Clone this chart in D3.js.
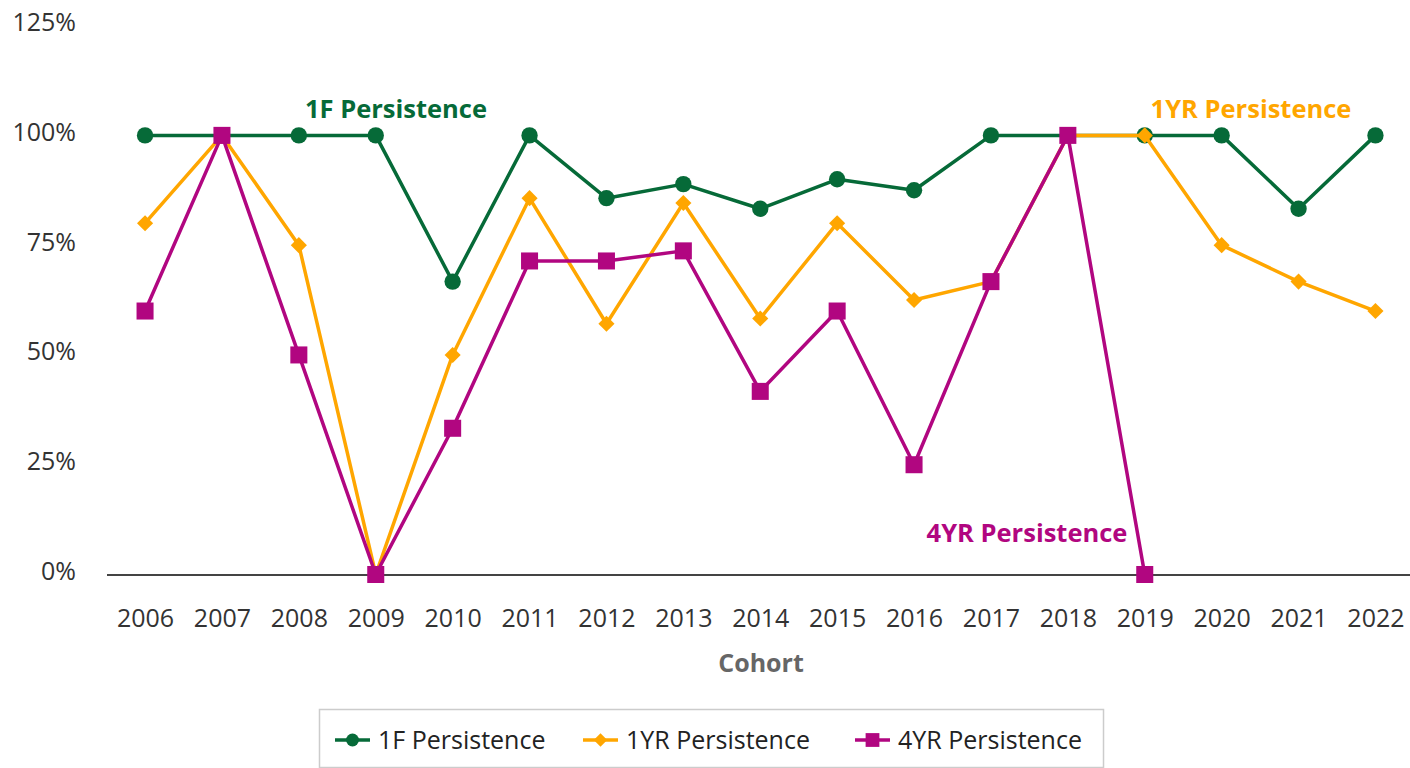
<!DOCTYPE html>
<html>
<head>
<meta charset="utf-8">
<script src="https://cdn.jsdelivr.net/npm/d3@7"></script>
<style>
  body { margin: 0; background: #fff; }
  svg { display: block; font-family: "Open Sans", sans-serif; }
</style>
</head>
<body>
<div id="chart"></div>
<script>
// Cohort years
var years = ['2006', '2007', '2008', '2009', '2010', '2011', '2012', '2013', '2014',
             '2015', '2016', '2017', '2018', '2019', '2020', '2021', '2022'];
// Persistence rates (%)
var persist1F  = [100, 100, 100, 100, 66.7, 100, 85.7, 88.9, 83.3, 90, 87.5, 100, 100, 100, 100, 83.3, 100];
var persist1YR = [80, 100, 75, 0, 50, 85.7, 57.1, 84.6, 58.3, 80, 62.5, 66.7, 100, 100, 75, 66.7, 60];
var persist4YR = [60, 100, 50, 0, 33.3, 71.4, 71.4, 73.7, 41.7, 60, 25, 66.7, 100, 0, null, null, null];
var yTicks = [0, 25, 50, 75, 100, 125];

var series = [
    { name: '1F Persistence',  values: persist1F,  color: '#066a38', shape: 'circle' },
    { name: '1YR Persistence', values: persist1YR, color: '#ffa600', shape: 'diamond' },
    { name: '4YR Persistence', values: persist4YR, color: '#b10680', shape: 'square' }
];

var width = 1410, height = 768;

var svg = d3.select('#chart')
    .append('svg')
    .attr('width', width)
    .attr('height', height);

var x = d3.scalePoint()
    .domain(years)
    .range([106.6, 1413.9])
    .padding(0.5);

var y = d3.scaleLinear()
    .domain([0, 125])
    .range([574.5, 25.6]);

// y axis labels only
var yAxis = svg.append('g')
    .attr('transform', 'translate(76,0)')
    .call(d3.axisLeft(y).tickValues(yTicks).tickSize(0).tickPadding(0)
        .tickFormat(function (d) { return d + '%'; }));
yAxis.select('.domain').remove();
yAxis.selectAll('text')
    .attr('dy', '0.2em')
    .style('font-size', '25px')
    .style('font-family', '"Open Sans", sans-serif')
    .style('fill', '#333');

// x axis
var xAxis = svg.append('g')
    .attr('transform', 'translate(0,' + y(0) + ')')
    .call(d3.axisBottom(x).tickSize(0).tickPadding(35));
xAxis.select('.domain').remove();
xAxis.selectAll('text')
    .style('font-size', '25px')
    .style('font-family', '"Open Sans", sans-serif')
    .style('fill', '#333');

svg.append('line')
    .attr('x1', 107)
    .attr('x2', width)
    .attr('y1', y(0) + 0.5)
    .attr('y2', y(0) + 0.5)
    .attr('stroke', '#444')
    .attr('stroke-width', 2);

svg.append('text')
    .attr('x', 761)
    .attr('y', 672)
    .attr('text-anchor', 'middle')
    .style('font-size', '25px')
    .style('font-weight', 'bold')
    .style('fill', '#666')
    .text('Cohort');

function symbolPath(shape, big) {
    if (shape === 'circle') {
        return d3.symbol().type(d3.symbolCircle).size(big ? 210 : 130)();
    } else if (shape === 'square') {
        return d3.symbol().type(d3.symbolSquare).size(big ? 290 : 190)();
    }
    return d3.symbol().type(d3.symbolSquare).size(big ? 130 : 90)();
}

var line = d3.line()
    .defined(function (d) { return d.v !== null; })
    .x(function (d) { return x(d.year); })
    .y(function (d) { return y(d.v); });

series.forEach(function (s) {
    var pts = years.map(function (yr, i) { return { year: yr, v: s.values[i] }; });
    var g = svg.append('g');
    g.append('path')
        .datum(pts)
        .attr('d', line)
        .attr('fill', 'none')
        .attr('stroke', s.color)
        .attr('stroke-width', 3.5)
        .attr('stroke-linejoin', 'round');
    g.selectAll('path.pt')
        .data(pts.filter(function (d) { return d.v !== null; }))
        .enter()
        .append('path')
        .attr('class', 'pt')
        .attr('d', symbolPath(s.shape, true))
        .attr('fill', s.color)
        .attr('transform', function (d) {
            return 'translate(' + x(d.year) + ',' + y(d.v) + ')' +
                (s.shape === 'diamond' ? ' rotate(45)' : '');
        });
});

// direct labels
var annotations = [
    { text: '1F Persistence',  color: '#066a38', x: 396,  y: 118 },
    { text: '1YR Persistence', color: '#ffa600', x: 1251, y: 118 },
    { text: '4YR Persistence', color: '#b10680', x: 1027, y: 542 }
];
svg.selectAll('text.annot')
    .data(annotations)
    .enter()
    .append('text')
    .attr('class', 'annot')
    .attr('x', function (d) { return d.x; })
    .attr('y', function (d) { return d.y; })
    .attr('text-anchor', 'middle')
    .style('font-size', '25.5px')
    .style('font-weight', 'bold')
    .style('fill', function (d) { return d.color; })
    .text(function (d) { return d.text; });

// legend
var legend = svg.append('g');
legend.append('rect')
    .attr('x', 319.5)
    .attr('y', 709.5)
    .attr('width', 784)
    .attr('height', 58)
    .attr('fill', '#fff')
    .attr('stroke', '#ccc')
    .attr('stroke-width', 1.5);

var legendX = [335, 583, 855];
series.forEach(function (s, i) {
    var lg = legend.append('g')
        .attr('transform', 'translate(' + legendX[i] + ',740)');
    lg.append('line')
        .attr('x1', 0).attr('x2', 35)
        .attr('stroke', s.color)
        .attr('stroke-width', 3.5);
    lg.append('path')
        .attr('d', symbolPath(s.shape, false))
        .attr('fill', s.color)
        .attr('transform', 'translate(17.5,0)' + (s.shape === 'diamond' ? ' rotate(45)' : ''));
    lg.append('text')
        .attr('x', 43)
        .attr('y', 8.5)
        .style('font-size', '25px')
        .style('fill', '#222')
        .text(s.name);
});
</script>
</body>
</html>
